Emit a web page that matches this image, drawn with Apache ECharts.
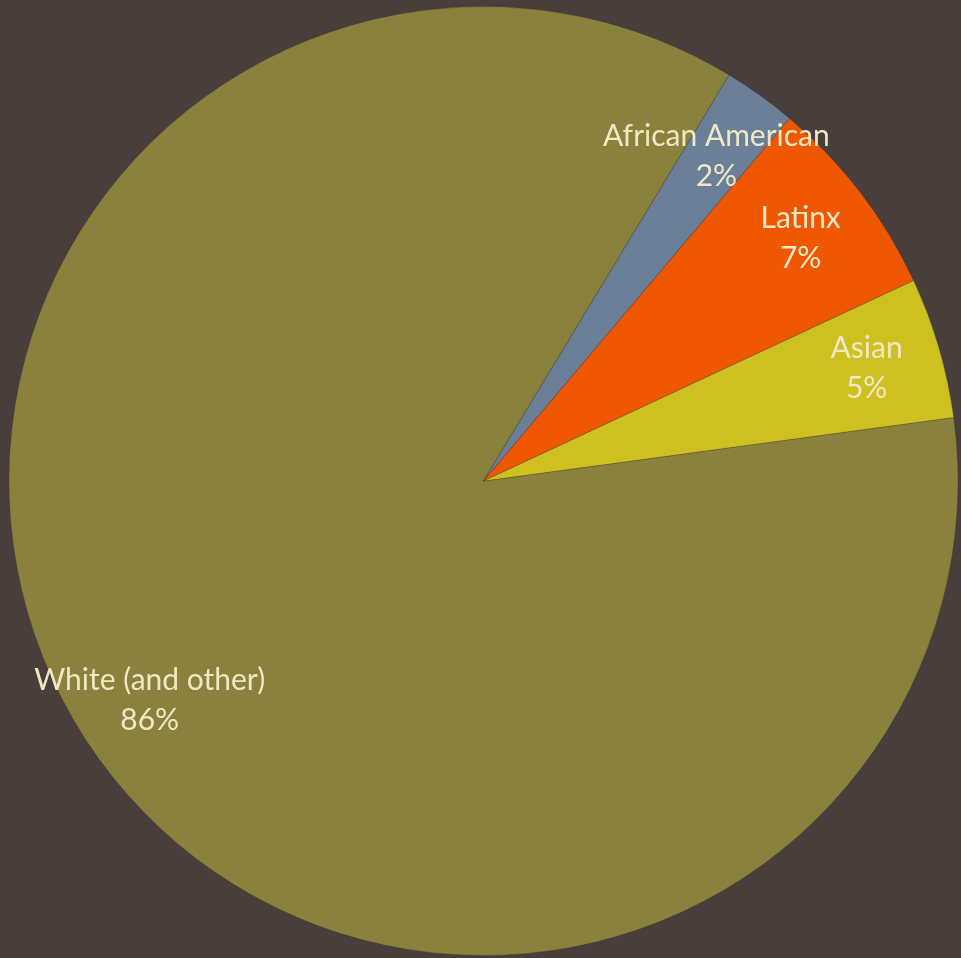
<!DOCTYPE html>
<html>
<head>
<meta charset="utf-8">
<script src="https://cdn.jsdelivr.net/npm/echarts@6/dist/echarts.min.js"></script>
<style>
  html, body { margin: 0; padding: 0; background: #483e3b; }
  #main { width: 961px; height: 958px; }
</style>
</head>
<body>
<div id="main"></div>
<script>
// data, clockwise from the White / Asian boundary
const categories = ['White (and other)', 'African American', 'Latinx', 'Asian']
const values = [85.8, 2.5, 6.9, 4.8]
const colors = ['#8a813c', '#6b7f99', '#ef5800', '#cdc020']

const chartData = categories.map((name, i) => ({ name, value: values[i] }))

let myChart = echarts.init(document.getElementById('main'))

const option = {
  backgroundColor: '#483e3b',
  animation: false,
  series: [
    {
      // filled slices
      type: 'pie',
      center: [483.5, 481],
      radius: [0, 474.5],
      startAngle: 7.7,
      clockwise: true,
      silent: true,
      label: { show: false },
      labelLine: { show: false },
      itemStyle: {
        color: (p) => colors[p.dataIndex],
        borderColor: 'rgba(60,50,40,0.5)',
        borderWidth: 0.6
      },
      data: chartData
    },
    {
      // transparent ring that carries the labels near the rim
      type: 'pie',
      center: [483.5, 481],
      radius: [318, 474.5],
      startAngle: 7.7,
      clockwise: true,
      silent: true,
      itemStyle: { color: 'rgba(0,0,0,0)' },
      labelLine: { show: false },
      label: {
        show: true,
        position: 'inside',
        formatter: '{b}\n{d}%',
        color: '#efe8c4',
        fontFamily: 'Lato',
        fontSize: 30,
        lineHeight: 40
      },
      percentPrecision: 0,
      data: chartData
    }
  ]
}

myChart.setOption(option)
</script>
</body>
</html>
